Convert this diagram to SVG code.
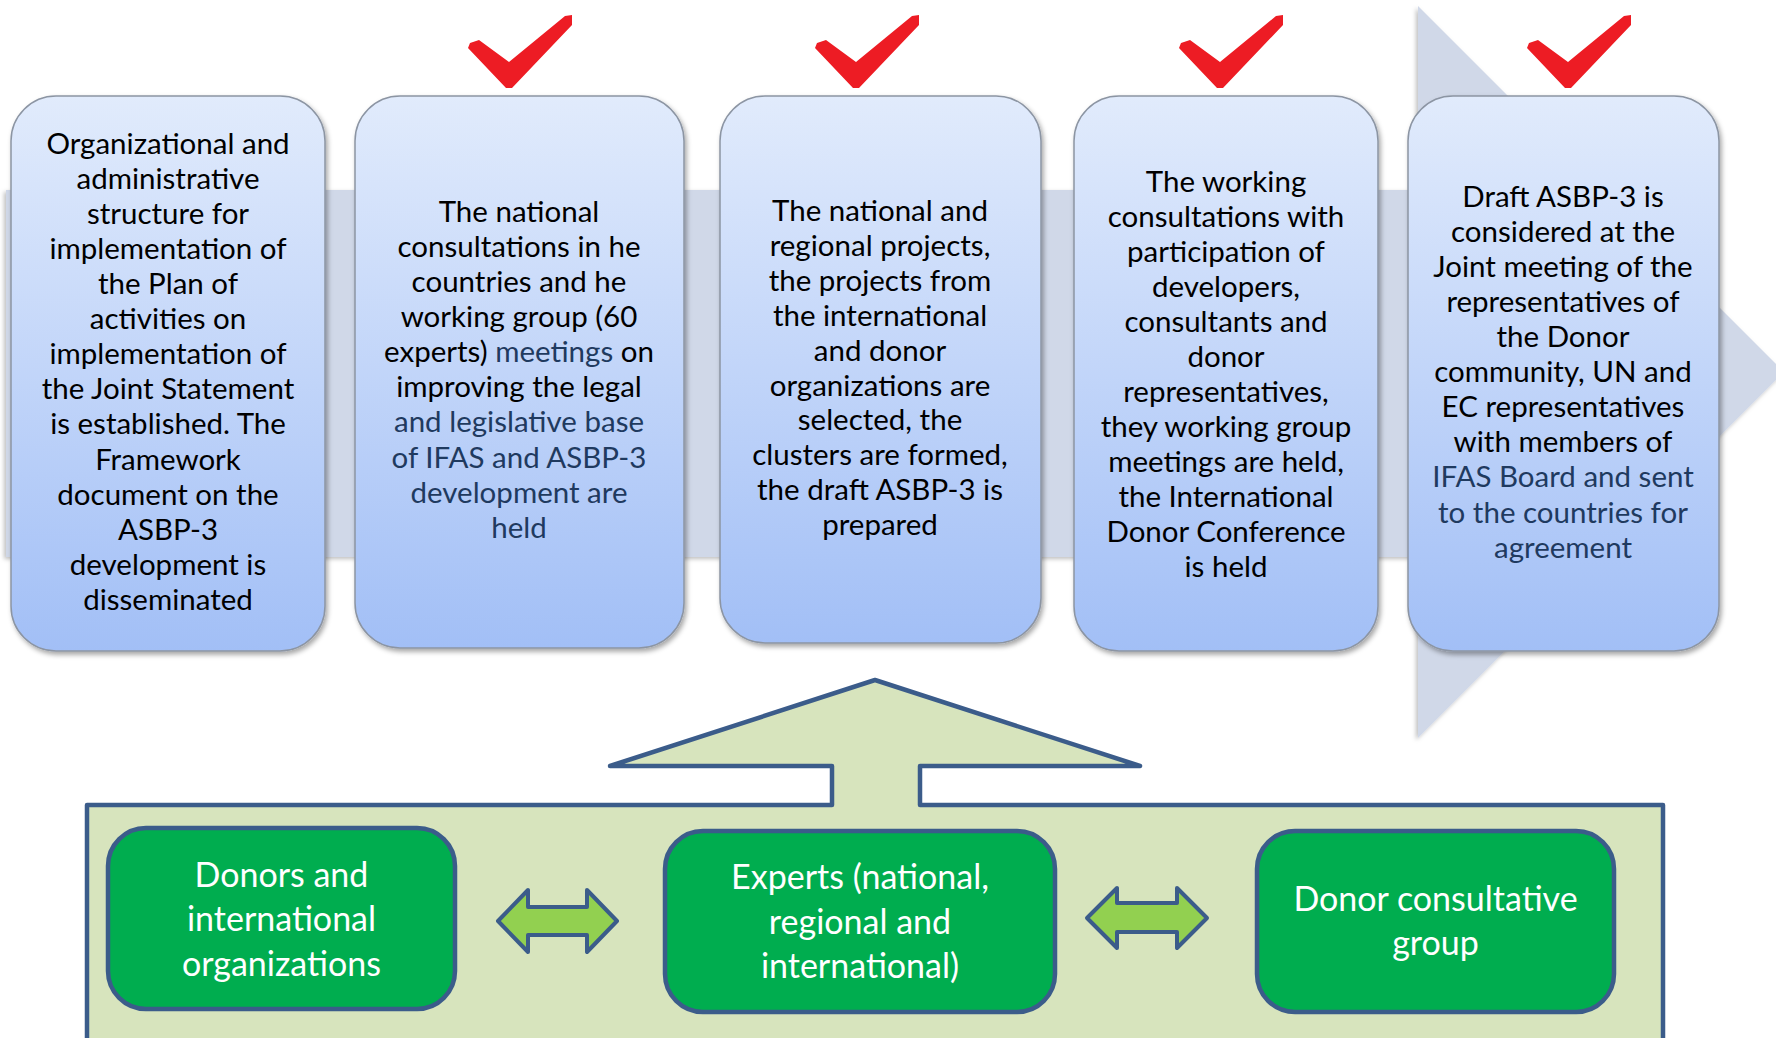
<svg xmlns="http://www.w3.org/2000/svg" width="1776" height="1038" viewBox="0 0 1776 1038">
  <defs>
    <linearGradient id="boxGrad" x1="0" y1="0" x2="0" y2="1">
      <stop offset="0" stop-color="#E1EBFC"/>
      <stop offset="1" stop-color="#A2BFF6"/>
    </linearGradient>
    <filter id="shadow" x="-10%" y="-10%" width="120%" height="120%">
      <feDropShadow dx="2" dy="3" stdDeviation="2.5" flood-color="#000" flood-opacity="0.35"/>
    </filter>
    <filter id="bandShadow" x="-5%" y="-5%" width="110%" height="110%">
      <feDropShadow dx="-2" dy="2" stdDeviation="2" flood-color="#000" flood-opacity="0.25"/>
    </filter>
    <path id="check" d="M-39,-45 L-30,-48 L0,-26 L56,-72 L63,-73 L63,-63 L3,0 L-3,0 L-41,-40 Z"/>
    <style>
      .box { fill: url(#boxGrad); stroke: #8C95A3; stroke-width: 1.5; filter: url(#shadow); }
      .t { font-family: Lato, "Open Sans", "Liberation Sans", sans-serif; font-size: 29.5px; fill: #000; text-anchor: middle; }
      .navy { fill: #1F3A5F; }
      .gbox { fill: #00AD4F; stroke: #3B5C8A; stroke-width: 4.5; }
      .gt { font-family: Lato, "Open Sans", "Liberation Sans", sans-serif; font-size: 34px; fill: #FFFFFF; text-anchor: middle; }
      .dbl { fill: #92D050; stroke: #3B5C8A; stroke-width: 4; stroke-linejoin: round; }
      .chk { fill: #ED1C24; }
    </style>
  </defs>

  <g id="background-arrow">
    <path d="M6,190 H1418 V6 L1784,372 L1418,738 V557 H6 Z" fill="#D0D8E8" filter="url(#bandShadow)"/>
  </g>

  <g id="checkmarks">
    <use href="#check" class="chk" x="509" y="88"/>
    <use href="#check" class="chk" x="856" y="88"/>
    <use href="#check" class="chk" x="1220" y="88"/>
    <use href="#check" class="chk" x="1568" y="88"/>
  </g>

  <g id="step1">
    <rect class="box" x="11" y="96" width="314" height="555" rx="45"/>
    <text class="t" x="168" y="153.6">Organizational and</text>
    <text class="t" x="168" y="188.7">administrative</text>
    <text class="t" x="168" y="223.8">structure for</text>
    <text class="t" x="168" y="258.9">implementation of</text>
    <text class="t" x="168" y="294">the Plan of</text>
    <text class="t" x="168" y="329.1">activities on</text>
    <text class="t" x="168" y="364.2">implementation of</text>
    <text class="t" x="168" y="399.3">the Joint Statement</text>
    <text class="t" x="168" y="434.4">is established. The</text>
    <text class="t" x="168" y="469.5">Framework</text>
    <text class="t" x="168" y="504.6">document on the</text>
    <text class="t" x="168" y="539.7">ASBP-3</text>
    <text class="t" x="168" y="574.8">development is</text>
    <text class="t" x="168" y="609.9">disseminated</text>
  </g>

  <g id="step2">
    <rect class="box" x="355" y="96" width="329" height="552" rx="45"/>
    <text class="t" x="519" y="221.8">The national</text>
    <text class="t" x="519" y="256.9">consultations in he</text>
    <text class="t" x="519" y="292">countries and he</text>
    <text class="t" x="519" y="327.1">working group (60</text>
    <text class="t" x="519" y="362.2">experts) <tspan class="navy">meetings</tspan> on</text>
    <text class="t" x="519" y="397.3">improving the legal</text>
    <text class="t navy" x="519" y="432.4">and legislative base</text>
    <text class="t navy" x="519" y="467.5">of IFAS and ASBP-3</text>
    <text class="t navy" x="519" y="502.6">development are</text>
    <text class="t navy" x="519" y="537.7">held</text>
  </g>

  <g id="step3">
    <rect class="box" x="720" y="96" width="321" height="547" rx="45"/>
    <text class="t" x="880" y="221">The national and</text>
    <text class="t" x="880" y="255.9">regional projects,</text>
    <text class="t" x="880" y="290.8">the projects from</text>
    <text class="t" x="880" y="325.7">the international</text>
    <text class="t" x="880" y="360.6">and donor</text>
    <text class="t" x="880" y="395.5">organizations are</text>
    <text class="t" x="880" y="430.4">selected, the</text>
    <text class="t" x="880" y="465.3">clusters are formed,</text>
    <text class="t" x="880" y="500.2">the draft ASBP-3 is</text>
    <text class="t" x="880" y="535.1">prepared</text>
  </g>

  <g id="step4">
    <rect class="box" x="1074" y="96" width="304" height="555" rx="45"/>
    <text class="t" x="1226" y="191.5">The working</text>
    <text class="t" x="1226" y="226.5">consultations with</text>
    <text class="t" x="1226" y="261.5">participation of</text>
    <text class="t" x="1226" y="296.5">developers,</text>
    <text class="t" x="1226" y="331.5">consultants and</text>
    <text class="t" x="1226" y="366.5">donor</text>
    <text class="t" x="1226" y="401.5">representatives,</text>
    <text class="t" x="1226" y="436.5">they working group</text>
    <text class="t" x="1226" y="471.5">meetings are held,</text>
    <text class="t" x="1226" y="506.5">the International</text>
    <text class="t" x="1226" y="541.5">Donor Conference</text>
    <text class="t" x="1226" y="576.5">is held</text>
  </g>

  <g id="step5">
    <rect class="box" x="1408" y="96" width="311" height="555" rx="45"/>
    <text class="t" x="1563" y="206.6">Draft ASBP-3 is</text>
    <text class="t" x="1563" y="241.7">considered at the</text>
    <text class="t" x="1563" y="276.8">Joint meeting of the</text>
    <text class="t" x="1563" y="311.9">representatives of</text>
    <text class="t" x="1563" y="347">the Donor</text>
    <text class="t" x="1563" y="382.1">community, UN and</text>
    <text class="t" x="1563" y="417.2">EC representatives</text>
    <text class="t" x="1563" y="452.3">with members of</text>
    <text class="t navy" x="1563" y="487.4">IFAS Board and sent</text>
    <text class="t navy" x="1563" y="522.5">to the countries for</text>
    <text class="t navy" x="1563" y="557.6">agreement</text>
  </g>

  <g id="participants-frame">
    <path d="M87,1045 V805 H832 V766 H610 L875,680 L1140,766 H920 V805 H1663 V1045" fill="#D7E4BD" stroke="#3B5C8A" stroke-width="4.5" stroke-linejoin="round"/>
  </g>

  <g id="donors">
    <rect class="gbox" x="108" y="828" width="347" height="181" rx="38"/>
    <text class="gt" x="281.5" y="886.7">Donors and</text>
    <text class="gt" x="281.5" y="931.2">international</text>
    <text class="gt" x="281.5" y="975.7">organizations</text>
  </g>

  <g id="experts">
    <rect class="gbox" x="665" y="831" width="390" height="181" rx="38"/>
    <text class="gt" x="860" y="889.3">Experts (national,</text>
    <text class="gt" x="860" y="933.6">regional and</text>
    <text class="gt" x="860" y="978">international)</text>
  </g>

  <g id="donor-group">
    <rect class="gbox" x="1257" y="831" width="357" height="181" rx="38"/>
    <text class="gt" x="1435.5" y="910.7">Donor consultative</text>
    <text class="gt" x="1435.5" y="955">group</text>
  </g>

  <g id="connectors">
    <path class="dbl" d="M498,921 L528,890 V907 H587 V890 L617,921 L587,952 V935 H528 V952 Z"/>
    <path class="dbl" d="M1087,918 L1117,888 V903 H1177 V888 L1207,918 L1177,948 V932 H1117 V948 Z"/>
  </g>
</svg>
